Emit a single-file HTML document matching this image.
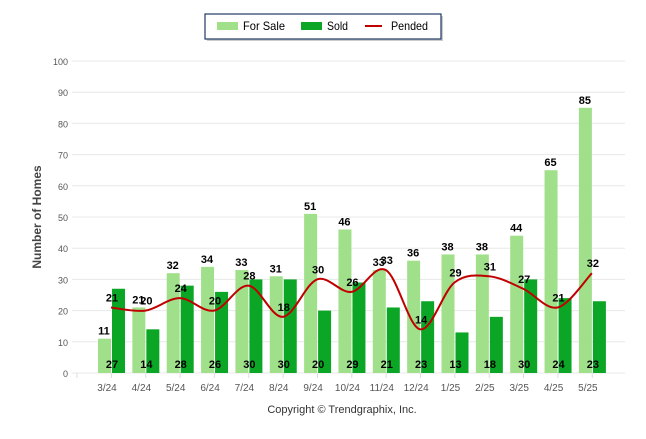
<!DOCTYPE html>
<html><head><meta charset="utf-8"><style>
body{margin:0;background:#fff;font-family:"Liberation Sans",sans-serif}
</style></head><body>
<svg id="c" width="646" height="434" xmlns="http://www.w3.org/2000/svg">
<g>
<rect x="207" y="16" width="236" height="25" fill="#999" opacity="0.5"/>
<rect x="205" y="14" width="236" height="25" fill="#fff" stroke="#1f3864" stroke-width="1.2"/>
<rect x="217" y="22" width="21" height="8" fill="#a1e08a"/>
<text x="243" y="30" font-size="12" textLength="42" lengthAdjust="spacingAndGlyphs">For Sale</text>
<rect x="301" y="22" width="21" height="8" fill="#0ca626"/>
<text x="327" y="30" font-size="12" textLength="21" lengthAdjust="spacingAndGlyphs">Sold</text>
<line x1="365" y1="26" x2="382" y2="26" stroke="#c00000" stroke-width="2"/>
<text x="391" y="30" font-size="12" textLength="37" lengthAdjust="spacingAndGlyphs">Pended</text>
</g>
<text transform="translate(41,217) rotate(-90)" text-anchor="middle" font-size="12" font-weight="bold" fill="#444">Number of Homes</text>
<text x="342" y="413" text-anchor="middle" font-size="11" fill="#333">Copyright © Trendgraphix, Inc.</text>
<g id="grid"></g><g id="bars"></g><g id="line"></g><g id="labels"></g>
</svg>
<script>
const categories=["3/24","4/24","5/24","6/24","7/24","8/24","9/24","10/24","11/24","12/24","1/25","2/25","3/25","4/25","5/25"];
const forSale=[11,21,32,34,33,31,51,46,33,36,38,38,44,65,85];
const sold=[27,14,28,26,30,30,20,29,21,23,13,18,30,24,23];
const pended=[21,20,24,20,28,18,30,26,33,14,29,31,27,21,32];
const yTicks=[0,10,20,30,40,50,60,70,80,90,100];
const NS="http://www.w3.org/2000/svg";
const y=v=>373-v*3.12;
const cx=i=>111+i*34.35;
function mk(t,a,p){const e=document.createElementNS(NS,t);for(const k in a)e.setAttribute(k,a[k]);p.appendChild(e);return e;}
const grid=document.getElementById('grid'),bars=document.getElementById('bars'),line=document.getElementById('line'),labels=document.getElementById('labels');
yTicks.forEach(v=>{
 const l=mk('line',{x1:72,x2:625,y1:y(v),y2:y(v),stroke:'#e8e8e8'},grid);
 
 
 const t=mk('text',{x:68,y:y(v)+4,'text-anchor':'end','font-size':9,fill:'#555'},grid);t.textContent=v;
 
 
});
for(let i=0;i<=categories.length;i++){mk('line',{x1:77+i*34.35,x2:77+i*34.35,y1:373,y2:378,stroke:'#ddd'},grid);}
categories.forEach((c,i)=>{
 const b1=mk('rect',{x:cx(i)-13,y:y(forSale[i]),width:13,height:forSale[i]*3.12,fill:'#a1e08a'},bars);
 
 
 const b2=mk('rect',{x:cx(i)+1,y:y(sold[i]),width:13,height:sold[i]*3.12,fill:'#0ca626'},bars);
 
 
 const t=mk('text',{x:cx(i)-4,y:391,'text-anchor':'middle','font-size':10,fill:'#555'},labels);t.textContent=c;
 
 
 const a=mk('text',{x:cx(i)-7,y:y(forSale[i])-4,'text-anchor':'middle','font-size':11,'font-weight':'bold'},labels);a.textContent=forSale[i];
 
 
 const s=mk('text',{x:cx(i)+1,y:368,'text-anchor':'middle','font-size':11,'font-weight':'bold'},labels);s.textContent=sold[i];
 
 
 const p=mk('text',{x:cx(i)+1,y:y(pended[i])-6,'text-anchor':'middle','font-size':11,'font-weight':'bold'},labels);p.textContent=pended[i];
 
 
});
const pts=pended.map((v,i)=>[cx(i),y(v)]);
let d='M'+pts[0][0]+','+pts[0][1];
for(let i=0;i<pts.length-1;i++){
 const p0=pts[i-1]||pts[i],p1=pts[i],p2=pts[i+1],p3=pts[i+2]||p2;
 d+=` C${p1[0]+(p2[0]-p0[0])/6},${p1[1]+(p2[1]-p0[1])/6} ${p2[0]-(p3[0]-p1[0])/6},${p2[1]-(p3[1]-p1[1])/6} ${p2[0]},${p2[1]}`;
}
const pl=mk('path',{d:d,fill:'none',stroke:'#c00000','stroke-width':2},line);


</script>
</body></html>
